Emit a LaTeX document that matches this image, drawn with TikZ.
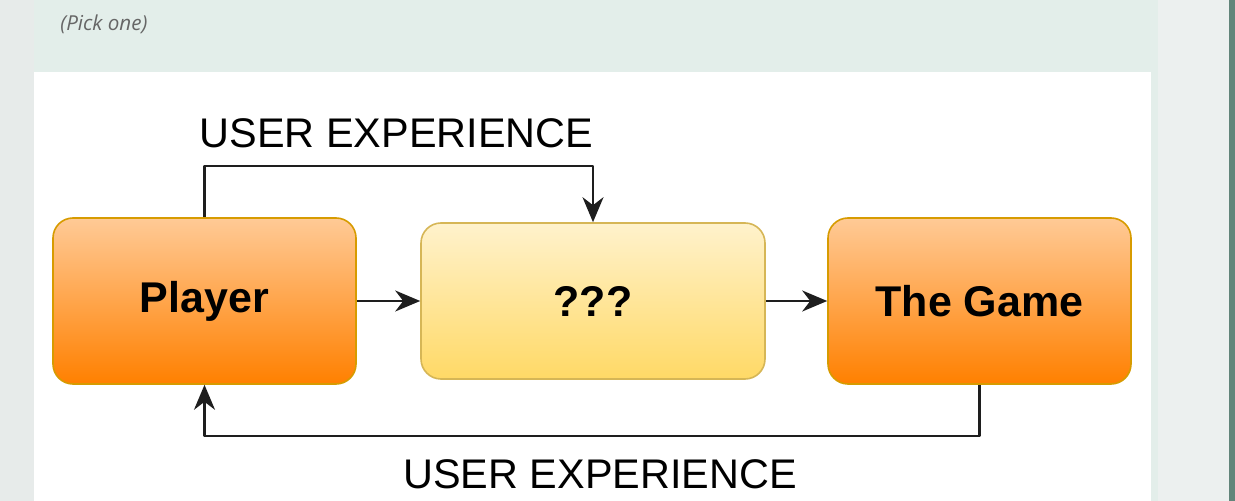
\documentclass[tikz,border=0pt]{standalone}
\usepackage{fontspec}
\setmainfont{Liberation Sans}
\newfontfamily\pickfont{Open Sans}
\usetikzlibrary{arrows.meta}
\definecolor{bgtop}{HTML}{E3EEEA}
\definecolor{bgleft}{HTML}{E7EBEA}
\definecolor{bgright}{HTML}{ECF0EF}
\definecolor{edgegreen}{HTML}{62857A}
\definecolor{orangetop}{HTML}{FFCA96}
\definecolor{orangebot}{HTML}{FF8000}
\definecolor{orangeline}{HTML}{D79B00}
\definecolor{yellowtop}{HTML}{FFF2CC}
\definecolor{yellowbot}{HTML}{FFD966}
\definecolor{yellowline}{HTML}{D6B656}
\definecolor{linegray}{HTML}{1E1E1E}
\definecolor{picktext}{HTML}{666666}
\begin{document}
\begin{tikzpicture}[x=0.5pt, y=-0.5pt, line join=round, >={Stealth[length=12.5pt,width=10.5pt,inset=4pt]},
	box/.style={rounded corners=10pt, draw, line width=0.8pt, font=\fontsize{21.5}{24}\selectfont\bfseries, inner sep=0pt},
	orangebox/.style={box, draw=orangeline, top color=orangetop, bottom color=orangebot, minimum width=151.5pt, minimum height=83pt},
	yellowbox/.style={box, draw=yellowline, top color=yellowtop, bottom color=yellowbot, minimum width=172pt, minimum height=78pt},
	flow/.style={->, line width=1.1pt, draw=linegray},
	uxlabel/.style={font=\fontsize{20.7}{24}\selectfont, anchor=base, inner sep=0pt}]
	\useasboundingbox (0,0) rectangle (1235,501);
	% page around the diagram
	\fill[bgtop] (0,0) rectangle (1235,501);
	\fill[bgleft] (0,0) rectangle (34,501);
	\fill[bgright] (1158,0) rectangle (1229,501);
	\fill[edgegreen] (1229,0) rectangle (1235,501);
	\fill[white] (34,72) rectangle (1151,501);
	\node[anchor=base west, inner sep=0pt, text=picktext, font=\pickfont\itshape\fontsize{10.3}{12}\selectfont] (pick) at (60,31) {(Pick one)};
	% boxes
	\node[orangebox] (player) at (204.5,301) {Player};
	\node[yellowbox] (qqq) at (593,301) {???};
	\node[orangebox] (game) at (979.5,301) {The Game};
	\coordinate (uxtop) at (593,166);
	\coordinate (uxbot) at (204.5,436);
	\draw[flow] (player) -- (qqq);
	\draw[flow] (qqq) -- (game);
	\draw[flow] (player.north) |- (uxtop) -- (qqq.north);
	\draw[flow] (game.south) |- (uxbot) -- (player.south);
	\node[uxlabel] (uxtoplabel) at (396.5,148) {USER EXPERIENCE};
	\node[uxlabel] (uxbotlabel) at (600,488) {USER EXPERIENCE};
\end{tikzpicture}
\end{document}
